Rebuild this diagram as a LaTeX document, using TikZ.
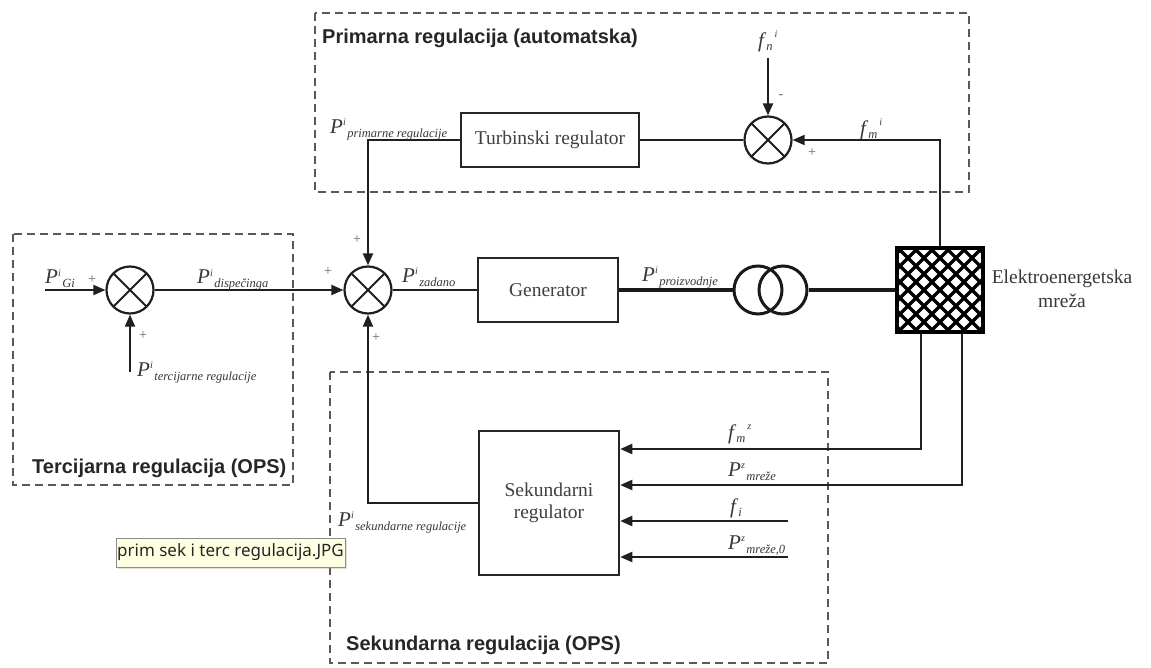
\documentclass[tikz,border=0pt]{standalone}
\usepackage{fontspec}
\setmainfont{Liberation Serif}
\newfontfamily\titlefont{Liberation Sans}
\newfontfamily\tipfont{Noto Sans}
\usetikzlibrary{arrows.meta,shadows}
% signal label: base, superscript, subscript (sequential)
\newcommand\sgP[3]{{\fontsize{21}{22}\selectfont\textit{#1}}\raisebox{8pt}{\fontsize{10}{10}\selectfont\textit{#2}}\hspace{1.5pt}\raisebox{-4pt}{\fontsize{12.5}{12.5}\selectfont\textit{#3}}}
% label: base, subscript, then superscript
\newcommand\sgF[3]{{\fontsize{21}{22}\selectfont\textit{#1}}\raisebox{-3pt}{\fontsize{12.5}{12.5}\selectfont\textit{#3}}\hspace{2pt}\raisebox{10pt}{\fontsize{10}{10}\selectfont\textit{#2}}}
\begin{document}
\begin{tikzpicture}[x=1pt,y=-1pt,
  ln/.style={draw=black!88, line width=2pt},
  pw/.style={draw=black!90, line width=3.6pt},
  arr/.style={ln, -{Triangle[length=12pt,width=10pt]}},
  blk/.style={rectangle, draw=black!85, line width=2.5pt, fill=white, inner sep=0pt,
    font=\fontsize{19.5}{22}\selectfont, text=black!75, align=center},
  sumc/.style={circle, draw=black!88, line width=2.2pt, minimum size=47pt, inner sep=0pt,
    path picture={\draw[line width=2pt,black!88] (path picture bounding box.north west)--(path picture bounding box.south east)
      (path picture bounding box.north east)--(path picture bounding box.south west);}},
  trf/.style={circle, draw=black!90, line width=3pt, minimum size=48pt, inner sep=0pt},
  lbl/.style={anchor=base west, inner sep=0pt, text=black!78, font=\fontsize{19.5}{22}\selectfont},
  pls/.style={inner sep=0pt, text=black!60, font=\fontsize{14}{14}\selectfont},
  ttl/.style={anchor=west, inner sep=0pt, text=black!85, font=\titlefont\bfseries\fontsize{20}{22}\selectfont},
  grp/.style={draw=black!65, line width=1.8pt, dash pattern=on 8pt off 5pt}
]
\useasboundingbox (0,0) rectangle (1151,668);
\fill[white] (0,0) rectangle (1151,668);

% group frames
\draw[grp] (315,13) rectangle (969,192);
\draw[grp] (13,234) rectangle (293,485);
\draw[grp] (330,372) rectangle (828,663);

% titles
\node[ttl] (tP) at (322,38) {Primarna regulacija (automatska)};
\node[ttl] (tT) at (32,468) {Tercijarna regulacija (OPS)};
\node[ttl] (tS) at (346,645) {Sekundarna regulacija (OPS)};

% blocks
\node[blk, minimum width=178pt, minimum height=54pt] (turb) at (550,140) {Turbinski regulator};
\node[blk, minimum width=140pt, minimum height=64pt] (gen) at (548,290) {Generator};
\node[blk, minimum width=140pt, minimum height=144pt] (sek) at (549,503) {Sekundarni\\regulator};

% summing junctions
\node[sumc] (s1) at (130,290) {};
\node[sumc] (s2) at (368,290) {};
\node[sumc] (s3) at (768,140) {};

% transformer
\node[trf] (t1) at (758,290) {};
\node[trf] (t2) at (783,290) {};

% grid
\node[rectangle, draw=black, line width=3.2pt, minimum width=86pt, minimum height=84pt, inner sep=0pt,
  path picture={\foreach \k in {-6,...,6}{
     \draw[line width=3.2pt] ([xshift=\k*16pt]path picture bounding box.center) ++(-60pt,60pt) -- ++(120pt,-120pt);
     \draw[line width=3.2pt] ([xshift=\k*16pt]path picture bounding box.center) ++(-60pt,-60pt) -- ++(120pt,120pt);}}]
  (grid) at (940,290) {};
\node[align=center, inner sep=0pt, text=black!78, font=\fontsize{19.5}{24}\selectfont] (gridt) at (1062,289) {Elektroenergetska\\mreža};

% free ends
\coordinate (gin) at (45,290);
\coordinate (tin) at (130,372);
\coordinate (fnin) at (768,58);
\coordinate (fiin) at (788,521);
\coordinate (pm0in) at (788,557);

% connectors
\draw[arr] (gin) -- (s1);
\draw[arr] (tin) -- (s1);
\draw[arr] (s1) -- (s2);
\draw[ln] (s2) -- (gen);
\draw[pw] (gen.east) -- (t1.west);
\draw[pw] (t2.east) -- (grid.west);
\draw[arr] (grid.north) |- (s3);
\draw[arr] (fnin) -- (s3);
\draw[ln] (turb) -- (s3);
\draw[arr] (turb.west) -| (s2);
\draw[arr] ([xshift=-19pt]grid.south) |- ([yshift=54pt]sek.east);
\draw[arr] ([xshift=22pt]grid.south) |- ([yshift=18pt]sek.east);
\draw[arr] (fiin) -- ([yshift=-18pt]sek.east);
\draw[arr] (pm0in) -- ([yshift=-54pt]sek.east);
\draw[arr] (sek.west) -| (s2);

% signal labels
\node[lbl] (lprim) at (330,134) {\sgP{P}{i}{primarne regulacije}};
\node[lbl] (lfn) at (758,48) {\sgF{f}{i}{n}};
\node[lbl] (lfm) at (860,136) {\sgF{f}{i}{m}};
\node[lbl] (lgi) at (45,284) {\sgP{P}{i}{Gi}};
\node[lbl] (ldis) at (197,284) {\sgP{P}{i}{dispečinga}};
\node[lbl] (lter) at (137,376) {\sgP{P}{i}{tercijarne regulacije}};
\node[lbl] (lzad) at (402,283) {\sgP{P}{i}{zadano}};
\node[lbl] (lpro) at (642,282) {\sgP{P}{i}{proizvodnje}};
\node[lbl] (lfmz) at (728,439) {\sgF{f}{z}{m}};
\node[lbl] (lpmz) at (728,476) {\sgP{P}{z}{mreže}};
\node[lbl] (lfi) at (730,513) {\sgF{f}{}{i}};
\node[lbl] (lpm0) at (728,549) {\sgP{P}{z}{mreže,0}};
\node[lbl] (lsek) at (338,526) {\sgP{P}{i}{sekundarne regulacije}};

% signs
\node[pls] (pa) at (92,280) {+};
\node[pls] (pb) at (143,336) {+};
\node[pls] (pc) at (328,272) {+};
\node[pls] (pd) at (357,240) {+};
\node[pls] (pe) at (376,338) {+};
\node[pls] (pf) at (812,153) {+};
\node[pls] (pg) at (781,97) {-};

% tooltip
\node[rectangle, draw=black!45, line width=1pt, fill={rgb,255:red,255;green,255;blue,225},
  minimum width=229pt, minimum height=29pt, inner sep=0pt, drop shadow={opacity=0.25, shadow xshift=2pt, shadow yshift=-2pt},
  text=black!85, font=\tipfont\fontsize{17}{18}\selectfont] (tip) at (230.5,552.5) {prim sek i terc regulacija.JPG};
\end{tikzpicture}
\end{document}
